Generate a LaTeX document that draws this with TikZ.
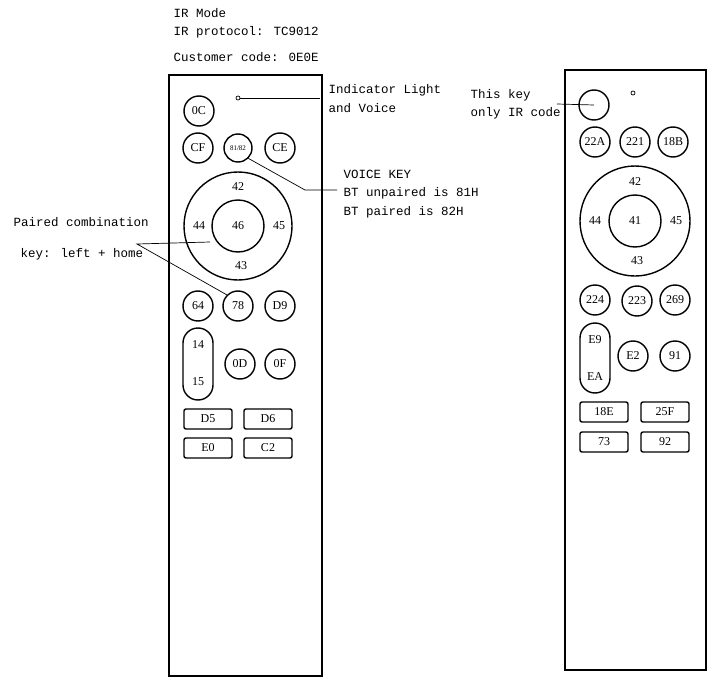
\documentclass[tikz,border=0pt]{standalone}
\usepackage{fontspec}
\setmainfont{Liberation Serif}
\newfontfamily\monof{Liberation Mono}
\begin{document}
\begin{tikzpicture}[x=1pt,y=-1pt,line width=1.4pt,
  key/.style={circle,draw,minimum size=30pt,inner sep=0pt,font=\fontsize{12}{12}\selectfont},
  rkey/.style={draw,rounded corners=2pt,minimum width=48pt,minimum height=20pt,inner sep=0pt,font=\fontsize{12}{12}\selectfont},
  pill/.style={draw,rounded corners=15pt},
  lbl/.style={font=\fontsize{12}{12}\selectfont,inner sep=0pt},
  note/.style={font=\monof\fontsize{12.5}{13}\selectfont,anchor=west,inner sep=0pt},
  lead/.style={line width=0.7pt}]
\useasboundingbox (0,0) rectangle (716,680);
% top texts
\node[note] (t1) at (173,13) {IR Mode};
\node[note] (t2) at (173,32) {IR protocol: TC9012};
\node[note] (t3) at (173,57) {Customer code: 0E0E};
% left remote
\draw (169,75) rectangle (322,676);
\node[key] (c0C) at (199,111) {0C};
\node[circle,draw,line width=0.7pt,minimum size=4pt,inner sep=0pt] (ldot) at (238,98) {};
\coordinate (lind) at (320,98);
\draw[lead] (ldot) -- (lind);
\node[note] (ind1) at (328,90) {Indicator Light};
\node[note] (ind2) at (328,108) {and Voice};
\node[key] (cCF) at (198,148) {CF};
\node[key,minimum size=28pt,font=\fontsize{7}{7}\selectfont] (c81) at (238,148) {81/82};
\node[key] (cCE) at (280,148) {CE};
\node[circle,draw,minimum size=108pt,inner sep=0pt] (ldo) at (238,226) {};
\node[key,minimum size=52pt,draw] (ldi) at (238,226) {46};
\node[lbl] (l42) at (238,187) {42};
\node[lbl] (l43) at (241,266) {43};
\node[lbl] (l44) at (199,226) {44};
\node[lbl] (l45) at (279,226) {45};
\coordinate (vk1) at (305,190);
\coordinate (vk2) at (337,190);
\draw[lead] (c81.south east) -- (vk1) -- (vk2);
\node[note] (v1) at (343,174) {VOICE KEY};
\node[note] (v2) at (343,193) {BT unpaired is 81H};
\node[note] (v3) at (343,212) {BT paired is 82H};
\node[key] (c64) at (198,306) {64};
\node[key] (c78) at (238,306) {78};
\node[key] (cD9) at (280,306) {D9};
\node[pill,minimum width=30pt,minimum height=72pt,inner sep=0pt] (p14) at (198,364) {};
\node[lbl] (l14) at (198,345) {14};
\node[lbl] (l15) at (198,382) {15};
\node[key] (c0D) at (240,364) {0D};
\node[key] (c0F) at (280,364) {0F};
\node[rkey] (rD5) at (208,419) {D5};
\node[rkey] (rD6) at (268,419) {D6};
\node[rkey] (rE0) at (208,448) {E0};
\node[rkey] (rC2) at (268,448) {C2};
\node[note] (pc1) at (13,222) {Paired combination};
\node[note] (pc2) at (20,254) {key: left + home};
\coordinate (pj) at (137,244);
\coordinate (pa) at (210,242);
\draw[lead] (pa) -- (pj) -- (c78.north west);
% right remote
\draw (565,70) rectangle (706,670);
\node[key] (pw) at (594,105) {};
\node[circle,draw,line width=0.7pt,minimum size=4pt,inner sep=0pt] (rdot) at (633,93) {};
\coordinate (pwl) at (557,104);
\draw[lead] (pwl) -- (pw.center);
\node[note] (k1) at (470,95) {This key};
\node[note] (k2) at (470,113) {only IR code};
\node[key] (c22A) at (595,142) {22A};
\node[key] (c221) at (635,142) {221};
\node[key] (c18B) at (673,142) {18B};
\node[circle,draw,minimum size=110pt,inner sep=0pt] (rdo) at (635,221) {};
\node[key,minimum size=52pt] (rdi) at (635,221) {41};
\node[lbl] (r42) at (635,182) {42};
\node[lbl] (r43) at (637,261) {43};
\node[lbl] (r44) at (595,221) {44};
\node[lbl] (r45) at (676,221) {45};
\node[key] (c224) at (595,300) {224};
\node[key] (c223) at (637,301) {223};
\node[key] (c269) at (675,300) {269};
\node[pill,minimum width=30pt,minimum height=70pt,inner sep=0pt] (pE9) at (595,358) {};
\node[lbl] (lE9) at (595,340) {E9};
\node[lbl] (lEA) at (595,377) {EA};
\node[key] (cE2) at (633,356) {E2};
\node[key] (c91) at (675,356) {91};
\node[rkey] (r18E) at (604,412) {18E};
\node[rkey] (r25F) at (665,412) {25F};
\node[rkey] (r73) at (604,442) {73};
\node[rkey] (r92) at (665,442) {92};
\end{tikzpicture}
\end{document}
